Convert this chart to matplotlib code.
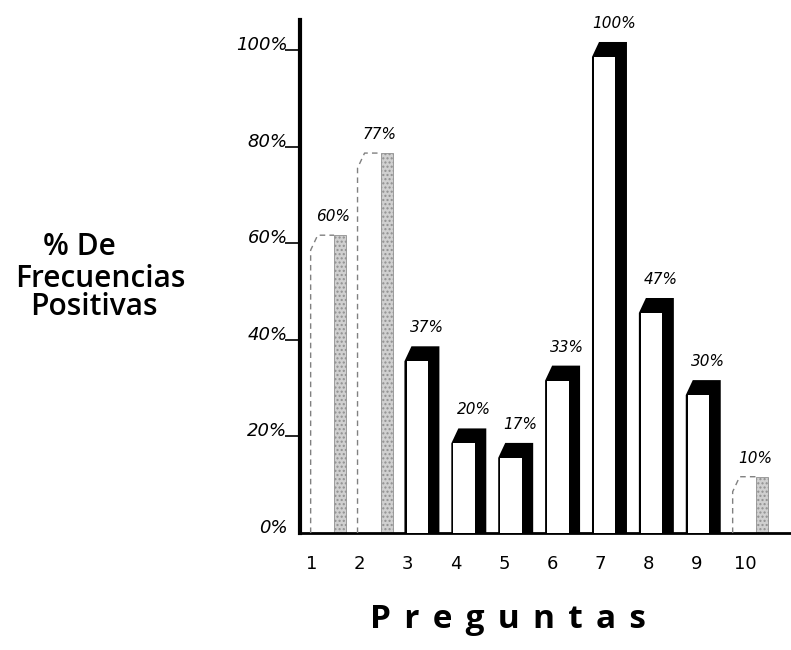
import matplotlib
matplotlib.use('Agg')
import matplotlib.pyplot as plt
import numpy as np

# data
preguntas = ['1', '2', '3', '4', '5', '6', '7', '8', '9', '10']
porcentajes = [60, 77, 37, 20, 17, 33, 100, 47, 30, 10]
faint_bars = [0, 1, 9]          # bars printed very light in the scan
y_ticks = [0, 20, 40, 60, 80, 100]
y_tick_labels = ['0%', '20%', '40%', '60%', '80%', '100%']

W, H, DPI = 791, 650, 100
fig = plt.figure(figsize=(W / DPI, H / DPI), dpi=DPI)
fig.patch.set_facecolor('white')

# axes box in pixels: x 300..790, y 20..533 (from top)
ax = fig.add_axes([300 / W, (H - 533) / H, 490 / W, 513 / H])
ax.set_facecolor('white')

x = np.arange(1, len(porcentajes) + 1)
ax.set_xlim(0.40, 10.85)
ax.set_ylim(0, 106.2)

bar_w = 0.746     # total bar footprint (front + side)
face_w = 0.50     # white front face
cap_up = 1.65     # dark top cap above value
cap_dn = 1.45     # front face stops below value
bevel = 0.15

for i, (xc, v) in enumerate(zip(x, porcentajes)):
    x0 = xc - bar_w / 2
    x1 = xc + bar_w / 2
    if i in faint_bars:
        # light stippled side
        ax.bar(x0 + face_w, v + cap_up, width=bar_w - face_w, align='edge',
               color='#d0d0d0', edgecolor='#909090', hatch='....', linewidth=0.6, zorder=2)
        ax.plot([x0, x0, x0 + bevel, x0 + face_w], [0, v - cap_dn, v + cap_up, v + cap_up],
                color='#808080', linestyle=(0, (4, 3)), linewidth=1.0, zorder=3)
    else:
        # black silhouette with bevelled top-left corner, then white front face
        ax.fill([x0, x0, x0 + bevel, x1, x1], [0, v - cap_dn, v + cap_up, v + cap_up, 0],
                color='black', linewidth=0, zorder=2)
        ax.bar(x0 + 0.045, v - cap_dn, width=face_w - 0.045, align='edge',
               color='white', linewidth=0, zorder=3)
    ax.annotate(f'{v}%', xy=(xc + 0.1, v + cap_up), xytext=(0, 8),
                textcoords='offset points', ha='center', va='bottom',
                fontsize=11, style='italic', color='black')

# spines
for side in ['top', 'right']:
    ax.spines[side].set_visible(False)
ax.spines['left'].set_linewidth(3)
ax.spines['bottom'].set_linewidth(2)

# x ticks sit a little left of the bar centres in the original
ax.set_xticks(np.linspace(0.64, 9.89, len(preguntas)))
ax.set_xticklabels(preguntas, fontsize=13)
ax.tick_params(axis='x', length=0, pad=16)

ax.set_yticks(y_ticks)
ax.set_yticklabels(y_tick_labels, fontsize=13, style='italic')
ax.tick_params(axis='y', length=11, width=1.2, pad=-2, direction='out')
for lab in ax.get_yticklabels():
    lab.set_verticalalignment('baseline')
ax.yaxis.get_major_ticks()[0].tick1line.set_visible(False)

# left title, three lines
title_font = dict(fontsize=21.5, fontfamily='Open Sans', fontweight='semibold',
                  ha='left', va='baseline')
fig.text(43 / W, 1 - 255 / H, '% De', **title_font)
fig.text(15 / W, 1 - 287 / H, 'Frecuencias', **title_font)
fig.text(30 / W, 1 - 315 / H, 'Positivas', **title_font)

# bottom title, letter spaced
fig.text(508 / W, 1 - 628 / H, '\u2009\u2009'.join('Preguntas'), fontsize=24,
         fontfamily=['Open Sans', 'DejaVu Sans'], fontweight='bold',
         ha='center', va='baseline')

fig.savefig('out.png', dpi=DPI, facecolor='white')
